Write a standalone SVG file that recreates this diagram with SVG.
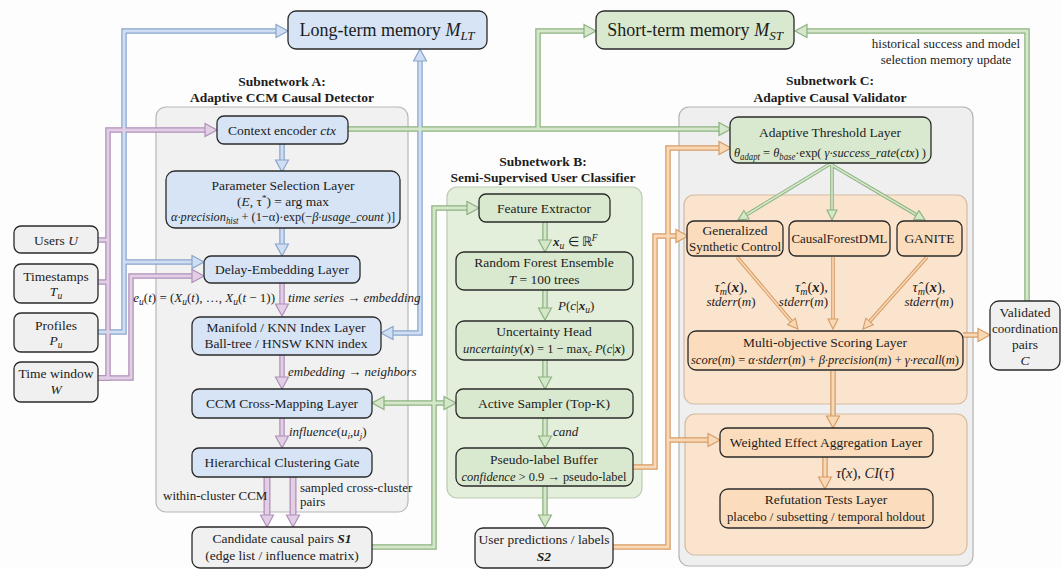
<svg xmlns="http://www.w3.org/2000/svg" width="1061" height="569" viewBox="0 0 1061 569">
<defs>
<style>
text{font-family:"Liberation Serif","Times New Roman",serif;fill:#1c1c1c}
.t{font-size:13.5px;text-anchor:middle}
.l{font-size:13px;font-style:italic}
.lm{font-size:14.5px;font-style:italic}
.i{font-style:italic}
.n{font-style:normal}
.bi{font-style:italic;font-weight:bold}
.h{font-size:13.5px;font-weight:bold;text-anchor:middle}
.m{font-size:18px;text-anchor:middle}
.nb{fill:#d6e4f6;stroke:#2a2a2a;stroke-width:1.3}
.ng{fill:#d9e9cf;stroke:#2a2a2a;stroke-width:1.3}
.no{fill:#fbdcbc;stroke:#2a2a2a;stroke-width:1.3}
.nw{fill:#f0f0f0;stroke:#2a2a2a;stroke-width:1.3}
.pa{fill:#f1f1f1;stroke:#b8b8b8;stroke-width:1.2}
.pb{fill:#e3eedb;stroke:#bccbb3;stroke-width:1.2}
.pc{fill:#fbe4cd;stroke:#d3bba3;stroke-width:1.2}
path{fill:none}
.bo{stroke:#89a5cc;stroke-width:5.5}
.bn{stroke:#cfdef2;stroke-width:3}
.po{stroke:#b08fb8;stroke-width:5.5}
.pn{stroke:#e2cfe6;stroke-width:3}
.go{stroke:#8cb27f;stroke-width:5.5}
.gn{stroke:#d4e7cb;stroke-width:3}
.oo{stroke:#d69c66;stroke-width:5.5}
.on{stroke:#f9d8b6;stroke-width:3}
.go2{stroke:#8cb27f;stroke-width:3.6}
.gn2{stroke:#d4e7cb;stroke-width:1.6}
.oo2{stroke:#d69c66;stroke-width:3.6}
.on2{stroke:#f9d8b6;stroke-width:1.6}
</style>
<marker id="mb" markerUnits="userSpaceOnUse" viewBox="-1 -8 15 16" markerWidth="15" markerHeight="16" refX="0" refY="0" orient="auto-start-reverse"><polygon points="0,-6.5 12,0 0,6.5" fill="#cfdef2" stroke="#89a5cc" stroke-width="1.2"/></marker>
<marker id="mp" markerUnits="userSpaceOnUse" viewBox="-1 -8 15 16" markerWidth="15" markerHeight="16" refX="0" refY="0" orient="auto-start-reverse"><polygon points="0,-6.5 12,0 0,6.5" fill="#e2cfe6" stroke="#b08fb8" stroke-width="1.2"/></marker>
<marker id="mg" markerUnits="userSpaceOnUse" viewBox="-1 -8 15 16" markerWidth="15" markerHeight="16" refX="0" refY="0" orient="auto-start-reverse"><polygon points="0,-6.5 12,0 0,6.5" fill="#d4e7cb" stroke="#8cb27f" stroke-width="1.2"/></marker>
<marker id="mo" markerUnits="userSpaceOnUse" viewBox="-1 -8 15 16" markerWidth="15" markerHeight="16" refX="0" refY="0" orient="auto-start-reverse"><polygon points="0,-6.5 12,0 0,6.5" fill="#f9d8b6" stroke="#d69c66" stroke-width="1.2"/></marker>
<marker id="mg2" markerUnits="userSpaceOnUse" viewBox="-1 -6 12 12" markerWidth="12" markerHeight="12" refX="0" refY="0" orient="auto"><polygon points="0,-5 10,0 0,5" fill="#d4e7cb" stroke="#8cb27f" stroke-width="1.1"/></marker>
<marker id="mo2" markerUnits="userSpaceOnUse" viewBox="-1 -6 12 12" markerWidth="12" markerHeight="12" refX="0" refY="0" orient="auto"><polygon points="0,-5 10,0 0,5" fill="#f9d8b6" stroke="#d69c66" stroke-width="1.1"/></marker>
</defs>
<rect width="1061" height="569" fill="#fdfdfd"/>

<g id="subnetA">
<text class="h" x="282" y="86">Subnetwork A:</text>
<text class="h" x="282" y="102">Adaptive CCM Causal Detector</text>
<rect class="pa" x="156" y="107" width="252" height="405" rx="10"/>
</g>
<g id="subnetB">
<text class="h" x="543" y="166">Subnetwork B:</text>
<text class="h" x="543" y="182">Semi-Supervised User Classifier</text>
<rect class="pb" x="447" y="187" width="195" height="311" rx="10"/>
</g>
<g id="subnetC">
<text class="h" x="830" y="85">Subnetwork C:</text>
<text class="h" x="830" y="102">Adaptive Causal Validator</text>
<rect x="679" y="107" width="294" height="459" rx="10" fill="#efefef" stroke="#b3b3b3" stroke-width="1.2"/>
<rect class="pc" x="684" y="195" width="283" height="209" rx="10"/>
<rect class="pc" x="685" y="414" width="282" height="141" rx="10"/>
</g>

<g id="connectors">
<g id="outer">
<path class="bo" d="M98,332 H124 V31 H276"/>
<path class="bo" d="M124,262 H192"/>
<path class="bo" d="M393,333 H420 V61"/>
<path class="bo" d="M282,144 V160"/>
<path class="bo" d="M282,228 V244"/>
<path class="po" d="M98,378 H108 V130 H205"/>
<path class="po" d="M98,240 H108"/>
<path class="po" d="M98,282 H108"/>
<path class="po" d="M98,378 H131 V276 H192"/>
<path class="po" d="M282,283 V304"/>
<path class="po" d="M282,355 V377"/>
<path class="po" d="M282,418 V436"/>
<path class="po" d="M267,477 V515" style="stroke-width:7"/>
<path class="po" d="M293,477 V515" style="stroke-width:7"/>
<path class="go" d="M348,129 H719"/>
<path class="go" d="M538,129 V31 H584"/>
<path class="go" d="M372,547 H434 V208 H467"/>
<path class="go" d="M434,403 H384"/>
<path class="go" d="M434,403 H444"/>
<path class="go" d="M545,222 V240"/>
<path class="go" d="M545,290 V308"/>
<path class="go" d="M545,360 V377"/>
<path class="go" d="M545,418 V436"/>
<path class="go" d="M545,486 V515"/>
<path class="go" d="M1027,301 V31 H807"/>
<path class="go2" d="M830,164 L746.5,214.7"/>
<path class="go2" d="M832,164 V210"/>
<path class="go2" d="M830,164 L916.4,214.9"/>
<path class="oo" d="M632,467 H655 V236 H676"/>
<path class="oo" d="M613,547 H668 V148 H719"/>
<path class="oo" d="M668,440 H708"/>
<path class="oo2" d="M737,257 L791.5,321.4"/>
<path class="oo2" d="M833,257 V319"/>
<path class="oo2" d="M927,257 L869.6,321.5"/>
<path class="oo" d="M833,371 V416"/>
<path class="oo" d="M825,457 V477"/>
<path class="oo" d="M963,335 H978"/>
</g>
<g id="inner">
<path class="bn" d="M98,332 H124 V31 H276" marker-end="url(#mb)"/>
<path class="bn" d="M124,262 H192" marker-end="url(#mb)"/>
<path class="bn" d="M393,333 H420 V61" marker-start="url(#mb)" marker-end="url(#mb)"/>
<path class="bn" d="M282,144 V160" marker-end="url(#mb)"/>
<path class="bn" d="M282,228 V244" marker-end="url(#mb)"/>
<path class="pn" d="M98,378 H108 V130 H205" marker-end="url(#mp)"/>
<path class="pn" d="M98,240 H108"/>
<path class="pn" d="M98,282 H108"/>
<path class="pn" d="M98,378 H131 V276 H192" marker-end="url(#mp)"/>
<path class="pn" d="M282,283 V304" marker-end="url(#mp)"/>
<path class="pn" d="M282,355 V377" marker-end="url(#mp)"/>
<path class="pn" d="M282,418 V436" marker-end="url(#mp)"/>
<path class="pn" d="M267,477 V515" style="stroke-width:4.5" marker-end="url(#mp)"/>
<path class="pn" d="M293,477 V515" style="stroke-width:4.5" marker-end="url(#mp)"/>
<path class="gn" d="M348,129 H719" marker-end="url(#mg)"/>
<path class="gn" d="M538,129 V31 H584" marker-end="url(#mg)"/>
<path class="gn" d="M372,547 H434 V208 H467" marker-end="url(#mg)"/>
<path class="gn" d="M434,403 H384" marker-end="url(#mg)"/>
<path class="gn" d="M434,403 H444" marker-end="url(#mg)"/>
<path class="gn" d="M545,222 V240" marker-end="url(#mg)"/>
<path class="gn" d="M545,290 V308" marker-end="url(#mg)"/>
<path class="gn" d="M545,360 V377" marker-end="url(#mg)"/>
<path class="gn" d="M545,418 V436" marker-end="url(#mg)"/>
<path class="gn" d="M545,486 V515" marker-end="url(#mg)"/>
<path class="gn" d="M1027,301 V31 H807" marker-end="url(#mg)"/>
<path class="gn2" d="M830,164 L746.5,214.7" marker-end="url(#mg2)"/>
<path class="gn2" d="M832,164 V210" marker-end="url(#mg2)"/>
<path class="gn2" d="M830,164 L916.4,214.9" marker-end="url(#mg2)"/>
<path class="on" d="M632,467 H655 V236 H676" marker-end="url(#mo)"/>
<path class="on" d="M613,547 H668 V148 H719" marker-end="url(#mo)"/>
<path class="on" d="M668,440 H708" marker-end="url(#mo)"/>
<path class="on2" d="M737,257 L791.5,321.4" marker-end="url(#mo2)"/>
<path class="on2" d="M833,257 V319" marker-end="url(#mo2)"/>
<path class="on2" d="M927,257 L869.6,321.5" marker-end="url(#mo2)"/>
<path class="on" d="M833,371 V416" marker-end="url(#mo)"/>
<path class="on" d="M825,457 V477" marker-end="url(#mo)"/>
<path class="on" d="M963,335 H978" marker-end="url(#mo)"/>
</g>
</g>

<g id="ltm">
<rect class="nb" x="288" y="11" width="199" height="38" rx="8"/>
<text class="m" x="387" y="36">Long-term memory <tspan class="i">M</tspan><tspan class="i" font-size="13" dy="4">LT</tspan></text>
</g>
<g id="stm">
<rect class="ng" x="596" y="11" width="198" height="38" rx="8"/>
<text class="m" x="695" y="36">Short-term memory <tspan class="i">M</tspan><tspan class="i" font-size="13" dy="4">ST</tspan></text>
</g>
<text x="946" y="48" font-size="13" text-anchor="middle">historical success and model</text>
<text x="946" y="64" font-size="13" text-anchor="middle">selection memory update</text>

<g id="users">
<rect class="nw" x="14" y="226" width="84" height="27" rx="7"/>
<text class="t" x="56" y="245">Users <tspan class="i">U</tspan></text>
</g>
<g id="timestamps">
<rect class="nw" x="14" y="264" width="84" height="39" rx="7"/>
<text class="t" x="56" y="281">Timestamps</text>
<text class="t" x="56" y="296"><tspan class="i">T</tspan><tspan class="i" font-size="9.5" dy="3">u</tspan></text>
</g>
<g id="profiles">
<rect class="nw" x="14" y="313" width="84" height="39" rx="7"/>
<text class="t" x="56" y="330">Profiles</text>
<text class="t" x="56" y="345"><tspan class="i">P</tspan><tspan class="i" font-size="9.5" dy="3">u</tspan></text>
</g>
<g id="timewindow">
<rect class="nw" x="14" y="362" width="84" height="40" rx="7"/>
<text class="t" x="56" y="378">Time window</text>
<text class="t i" x="56" y="394">W</text>
</g>

<g id="ctx">
<rect class="nb" x="217" y="116" width="131" height="28" rx="7"/>
<text class="t" x="282" y="135">Context encoder <tspan class="i">ctx</tspan></text>
</g>
<g id="param">
<rect class="nb" x="166" y="171" width="234" height="57" rx="9"/>
<text class="t" x="283" y="190">Parameter Selection Layer</text>
<text class="t" x="283" y="206">(<tspan class="i">E</tspan>, τ<tspan font-size="9" dy="-5">*</tspan><tspan dy="5">) = arg max</tspan></text>
<text class="t" x="283" y="221" textLength="224" lengthAdjust="spacingAndGlyphs"><tspan class="i">α·precision</tspan><tspan class="i" font-size="9.5" dy="3">hist</tspan><tspan dy="-3"> + (1−α)·exp(−</tspan><tspan class="i">β·usage_count</tspan> )]</text>
</g>
<g id="delay">
<rect class="nb" x="204" y="256" width="156" height="27" rx="7"/>
<text class="t" x="282" y="274">Delay-Embedding Layer</text>
</g>
<text class="l" x="275" y="302" text-anchor="end">e<tspan font-size="9.5" dy="3">u</tspan><tspan dy="-3" class="n">(</tspan>t<tspan class="n">) = (</tspan>X<tspan font-size="9.5" dy="3">u</tspan><tspan dy="-3" class="n">(</tspan>t<tspan class="n">), …, </tspan>X<tspan font-size="9.5" dy="3">u</tspan><tspan dy="-3" class="n">(</tspan>t<tspan class="n"> − 1))</tspan></text>
<text class="l" x="288" y="302">time series → embedding</text>
<g id="manifold">
<rect class="nb" x="192" y="317" width="189" height="38" rx="8"/>
<text class="t" x="286" y="332">Manifold / KNN Index Layer</text>
<text class="t" x="286" y="348">Ball-tree / HNSW KNN index</text>
</g>
<text class="l" x="288" y="376">embedding → neighbors</text>
<g id="ccm">
<rect class="nb" x="192" y="389" width="180" height="29" rx="7"/>
<text class="t" x="282" y="408">CCM Cross-Mapping Layer</text>
</g>
<text class="l" x="289" y="436">influence<tspan class="n">(</tspan>u<tspan font-size="9" dy="3">i</tspan><tspan dy="-3" class="n">,</tspan>u<tspan font-size="9" dy="3">j</tspan><tspan dy="-3" class="n">)</tspan></text>
<g id="gate">
<rect class="nb" x="192" y="448" width="180" height="29" rx="7"/>
<text class="t" x="282" y="467">Hierarchical Clustering Gate</text>
</g>
<text x="163" y="500" font-size="13">within-cluster CCM</text>
<text x="300" y="492" font-size="13">sampled cross-cluster</text>
<text x="300" y="506" font-size="13">pairs</text>
<g id="s1">
<rect class="nw" x="192" y="527" width="180" height="41" rx="8"/>
<text class="t" x="282" y="543">Candidate causal pairs <tspan class="bi">S1</tspan></text>
<text class="t" x="282" y="560">(edge list / influence matrix)</text>
</g>

<g id="feature">
<rect class="ng" x="479" y="194" width="131" height="28" rx="7"/>
<text class="t" x="544" y="213">Feature Extractor</text>
</g>
<text x="553" y="246" font-size="13"><tspan class="bi">x</tspan><tspan class="i" font-size="9.5" dy="3">u</tspan><tspan dy="-3"> ∈ ℝ</tspan><tspan class="i" font-size="9.5" dy="-5">F</tspan></text>
<g id="rf">
<rect class="ng" x="456" y="252" width="177" height="38" rx="8"/>
<text class="t" x="544" y="267">Random Forest Ensemble</text>
<text class="t" x="544" y="284"><tspan class="i">T</tspan> = 100 trees</text>
</g>
<text class="l" x="558" y="310">P<tspan class="n">(</tspan>c<tspan class="n">|</tspan><tspan font-weight="bold">x</tspan><tspan font-size="9.5" dy="3">u</tspan><tspan dy="-3" class="n">)</tspan></text>
<g id="uncertainty">
<rect class="ng" x="456" y="321" width="177" height="39" rx="8"/>
<text class="t" x="544" y="336">Uncertainty Head</text>
<text class="t" x="544" y="353" textLength="162" lengthAdjust="spacingAndGlyphs"><tspan class="i">uncertainty</tspan>(<tspan class="bi">x</tspan>) = 1 − max<tspan class="i" font-size="9.5" dy="3">c</tspan><tspan dy="-3"> </tspan><tspan class="i">P</tspan>(<tspan class="i">c</tspan>|<tspan class="bi">x</tspan>)</text>
</g>
<g id="active">
<rect class="ng" x="456" y="389" width="177" height="29" rx="7"/>
<text class="t" x="544" y="408">Active Sampler (Top-K)</text>
</g>
<text class="l" x="553" y="436">cand</text>
<g id="pseudo">
<rect class="ng" x="456" y="448" width="177" height="38" rx="8"/>
<text class="t" x="544" y="464">Pseudo-label Buffer</text>
<text class="t" x="544" y="481" textLength="165" lengthAdjust="spacingAndGlyphs"><tspan class="i">confidence</tspan> &gt; 0.9 → pseudo-label</text>
</g>
<g id="s2">
<rect class="nw" x="475" y="528" width="138" height="40" rx="8"/>
<text class="t" x="544" y="544">User predictions / labels</text>
<text class="t bi" x="544" y="561">S2</text>
</g>

<g id="threshold">
<rect class="ng" x="730" y="117" width="201" height="46" rx="8"/>
<text class="t" x="830" y="137">Adaptive Threshold Layer</text>
<text class="t" x="830" y="157" textLength="192" lengthAdjust="spacingAndGlyphs"><tspan class="i">θ</tspan><tspan class="i" font-size="9.5" dy="3">adapt</tspan><tspan dy="-3"> = </tspan><tspan class="i">θ</tspan><tspan class="i" font-size="9.5" dy="3">base</tspan><tspan dy="-3">·exp( </tspan><tspan class="i">γ·success_rate</tspan>(<tspan class="i">ctx</tspan>) )</text>
</g>
<g id="gsc">
<rect class="no" x="687" y="221" width="96" height="35" rx="7"/>
<text class="t" x="735" y="235">Generalized</text>
<text class="t" x="735" y="251" textLength="92" lengthAdjust="spacingAndGlyphs">Synthetic Control</text>
</g>
<g id="cfdml">
<rect class="no" x="789" y="221" width="101" height="35" rx="7"/>
<text class="t" x="839.5" y="243" textLength="96" lengthAdjust="spacingAndGlyphs">CausalForestDML</text>
</g>
<g id="ganite">
<rect class="no" x="897" y="221" width="65" height="35" rx="7"/>
<text class="t" x="929.5" y="243">GANITE</text>
</g>
<text class="lm" x="731" y="292" text-anchor="middle">τ̂<tspan font-size="10" dy="3">m</tspan><tspan dy="-3" class="n">(</tspan><tspan font-weight="bold">x</tspan><tspan class="n">),</tspan></text>
<text class="l" x="731" y="306" text-anchor="middle">stderr<tspan class="n">(</tspan>m<tspan class="n">)</tspan></text>
<text class="lm" x="828" y="292" text-anchor="end">τ̂<tspan font-size="10" dy="3">m</tspan><tspan dy="-3" class="n">(</tspan><tspan font-weight="bold">x</tspan><tspan class="n">),</tspan></text>
<text class="l" x="828" y="306" text-anchor="end">stderr<tspan class="n">(</tspan>m<tspan class="n">)</tspan></text>
<text class="lm" x="929" y="292" text-anchor="middle">τ̂<tspan font-size="10" dy="3">m</tspan><tspan dy="-3" class="n">(</tspan><tspan font-weight="bold">x</tspan><tspan class="n">),</tspan></text>
<text class="l" x="929" y="306" text-anchor="middle">stderr<tspan class="n">(</tspan>m<tspan class="n">)</tspan></text>
<g id="scoring">
<rect class="no" x="688" y="331" width="275" height="39" rx="8"/>
<text class="t" x="825" y="347">Multi-objective Scoring Layer</text>
<text class="t" x="825" y="364" textLength="268" lengthAdjust="spacingAndGlyphs"><tspan class="i">score</tspan>(<tspan class="i">m</tspan>) = <tspan class="i">α·stderr</tspan>(<tspan class="i">m</tspan>) + <tspan class="i">β·precision</tspan>(<tspan class="i">m</tspan>) + <tspan class="i">γ·recall</tspan>(<tspan class="i">m</tspan>)</text>
</g>
<g id="weighted">
<rect class="no" x="720" y="428" width="213" height="29" rx="7"/>
<text class="t" x="826" y="447">Weighted Effect Aggregation Layer</text>
</g>
<text class="lm" x="836" y="478">τ̂<tspan class="n">(</tspan>x<tspan class="n">), </tspan>CI<tspan class="n">(</tspan>τ̂<tspan class="n">)</tspan></text>
<g id="refutation">
<rect class="no" x="720" y="489" width="213" height="39" rx="8"/>
<text class="t" x="826" y="504">Refutation Tests Layer</text>
<text class="t" x="826" y="521" textLength="198" lengthAdjust="spacingAndGlyphs">placebo / subsetting / temporal holdout</text>
</g>
<g id="validated">
<rect class="nw" x="990" y="301" width="70" height="69" rx="9"/>
<text class="t" x="1025" y="317">Validated</text>
<text class="t" x="1025" y="333" textLength="66" lengthAdjust="spacingAndGlyphs">coordination</text>
<text class="t" x="1025" y="349">pairs</text>
<text class="t i" x="1025" y="365">C</text>
</g>
</svg>
